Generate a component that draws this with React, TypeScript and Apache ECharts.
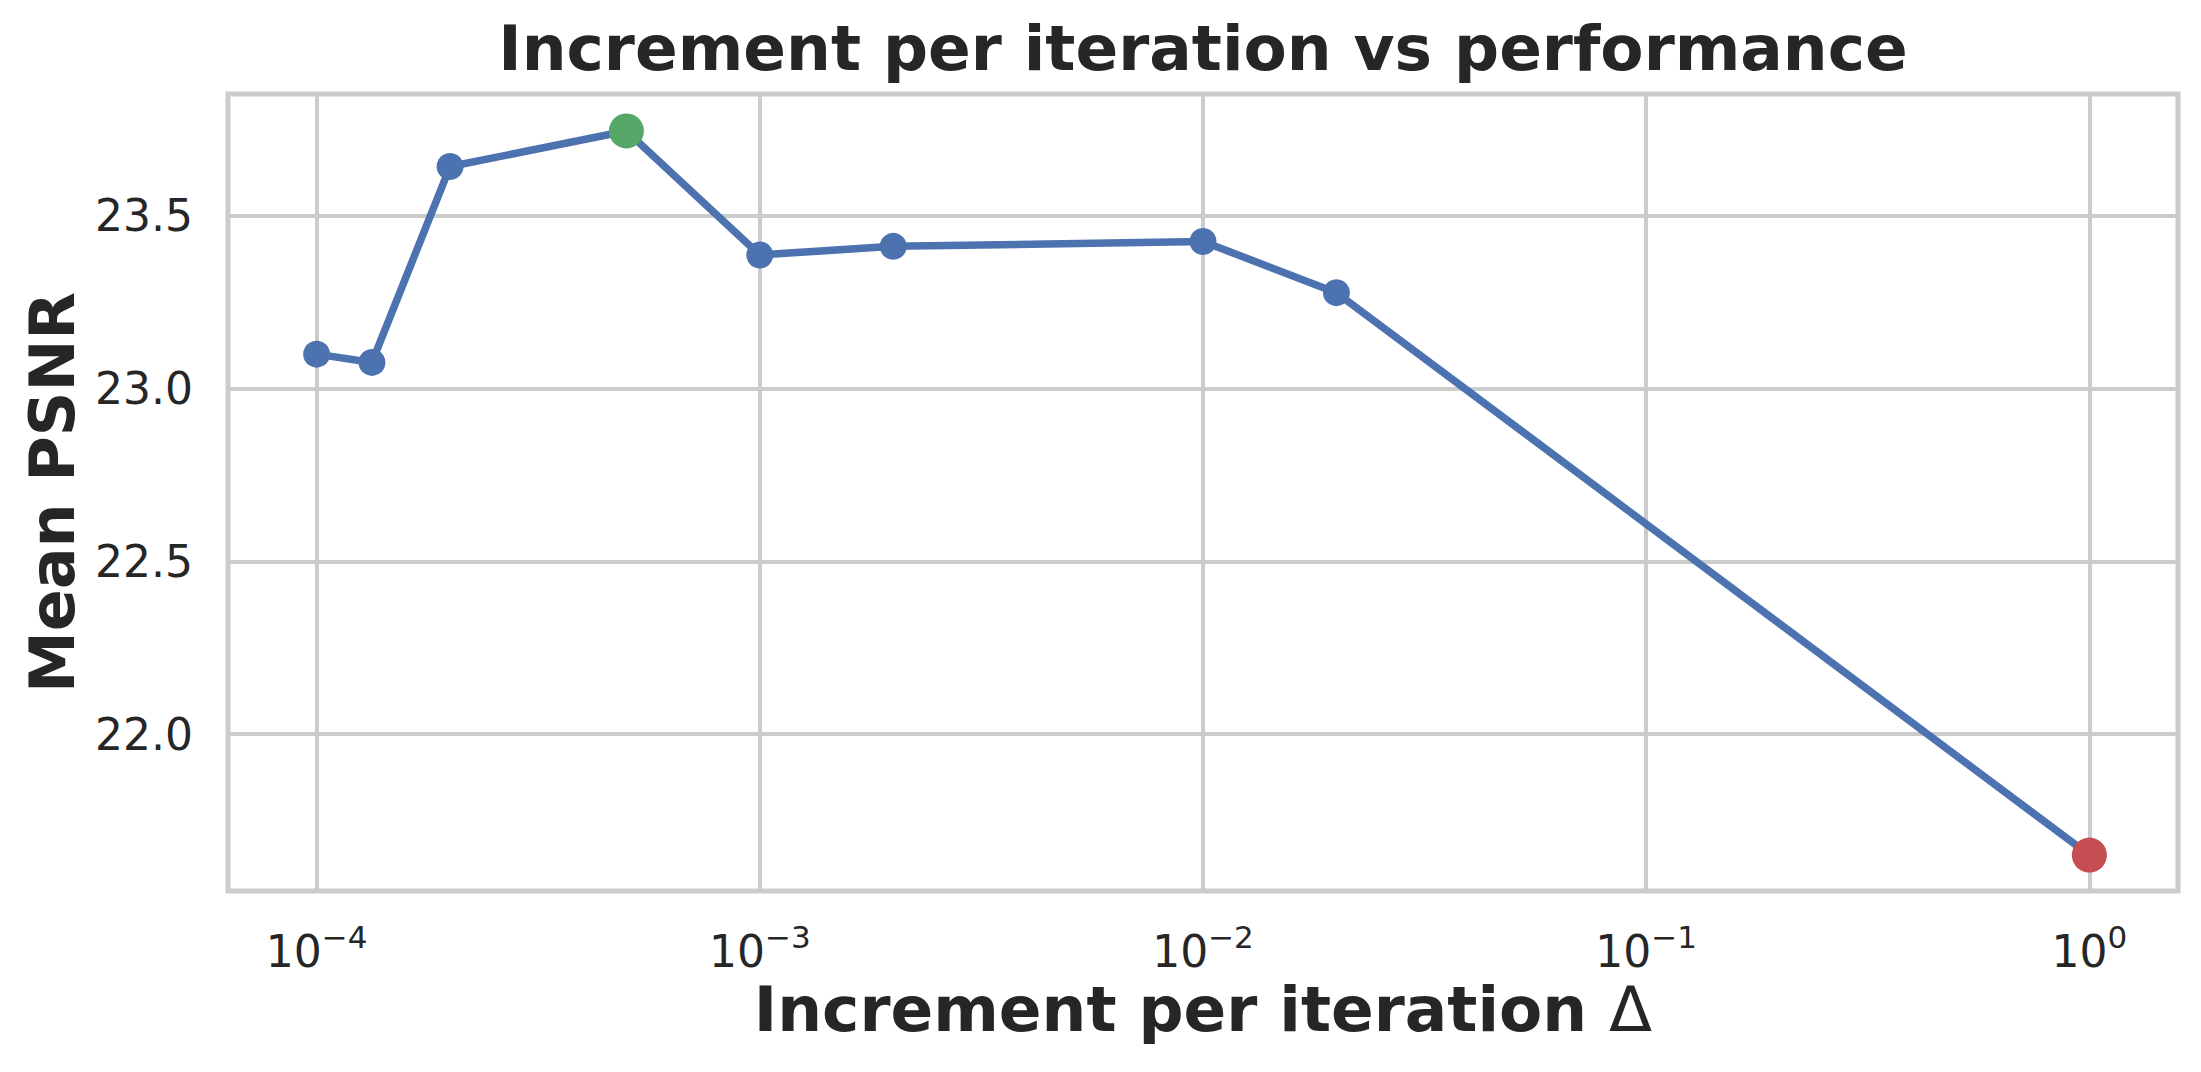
import React, { useEffect, useRef } from 'react';
import * as echarts from 'echarts';

const deltas = [1e-4, 1.333e-4, 2e-4, 5e-4, 1e-3, 2e-3, 1e-2, 2e-2, 1];
const meanPsnr = [23.1, 23.076, 23.643, 23.746, 23.387, 23.412, 23.426, 23.278, 21.65];

const TITLE = 'Increment per iteration vs performance';
const X_NAME = 'Increment per iteration ';
const X_SYMBOL = 'Δ';
const Y_NAME = 'Mean PSNR';

const FG = '#262626';
const GRID = '#cccccc';
const BLUE = '#4C72B0';
const GREEN = '#55A868';
const RED = '#C44E52';
const FONT = 'DejaVu Sans';

const PLOT_LEFT = 228;
const PLOT_TOP = 94;
const PLOT_W = 1950;
const PLOT_H = 797;

const argOf = (arr: number[], better: (a: number, b: number) => boolean) => {
  let k = 0;
  arr.forEach((v, i) => {
    if (better(v, arr[k])) k = i;
  });
  return k;
};

const logTickLabel = (v: number) => {
  const e = Math.log10(v);
  const r = Math.round(e);
  if (Math.abs(e - r) > 1e-6) return '';
  const exp = r < 0 ? '\u2212' + Math.abs(r) : String(r);
  return `{b|10}{s|${exp}}`;
};

const App = (): JSX.Element => {
  const divEL = useRef(null);

  useEffect(() => {
    const instance = echarts.init(divEL.current as any, null, { renderer: 'svg' });
    const points = deltas.map((d, i) => [d, meanPsnr[i]]);
    const best = argOf(meanPsnr, (a, b) => a > b);
    const worst = argOf(meanPsnr, (a, b) => a < b);

    const option: echarts.EChartsOption = {
      animation: false,
      backgroundColor: '#ffffff',
      textStyle: { fontFamily: FONT, color: FG },
      // title centred over the plot area, not the canvas
      graphic: [
        {
          type: 'text',
          x: PLOT_LEFT + PLOT_W / 2,
          y: 17,
          style: {
            text: TITLE,
            align: 'center',
            verticalAlign: 'top',
            fontFamily: FONT,
            fontSize: 63,
            fontWeight: 'bold',
            fill: FG,
          },
        },
      ],
      grid: {
        left: PLOT_LEFT,
        top: PLOT_TOP,
        width: PLOT_W,
        height: PLOT_H,
        show: true,
        borderColor: GRID,
        borderWidth: 5,
        containLabel: false,
      },
      xAxis: {
        type: 'log',
        logBase: 10,
        min: Math.pow(10, -4.2),
        max: Math.pow(10, 0.2),
        splitNumber: 4,
        name: `{a|${X_NAME}}{d|${X_SYMBOL}}`,
        nameLocation: 'middle',
        nameGap: 84,
        nameTextStyle: {
          fontFamily: FONT,
          fontSize: 63,
          fontWeight: 'bold',
          color: FG,
          rich: {
            a: { fontFamily: FONT, fontSize: 63, fontWeight: 'bold', color: FG },
            d: { fontFamily: FONT, fontSize: 63, fontWeight: 'normal', color: FG },
          },
        },
        axisLine: { show: false },
        axisTick: { show: false },
        splitLine: { show: true, lineStyle: { color: GRID, width: 4 } },
        axisLabel: {
          margin: 30,
          showMinLabel: false,
          showMaxLabel: false,
          formatter: logTickLabel,
          rich: {
            b: { fontFamily: FONT, fontSize: 44, color: FG, lineHeight: 52, verticalAlign: 'bottom' },
            s: { fontFamily: FONT, fontSize: 31, color: FG, lineHeight: 52, verticalAlign: 'top' },
          },
        },
      },
      yAxis: {
        type: 'value',
        min: 21.546,
        max: 23.853,
        splitNumber: 5,
        name: Y_NAME,
        nameLocation: 'middle',
        nameGap: 145,
        nameRotate: 90,
        nameTextStyle: { fontFamily: FONT, fontSize: 62, fontWeight: 'bold', color: FG },
        axisLine: { show: false },
        axisTick: { show: false },
        splitLine: { show: true, lineStyle: { color: GRID, width: 4 } },
        axisLabel: {
          margin: 35,
          fontFamily: FONT,
          fontSize: 44,
          color: FG,
          showMinLabel: false,
          showMaxLabel: false,
          formatter: (v: number) => v.toFixed(1),
        },
      },
      series: [
        {
          type: 'line',
          data: points,
          symbol: 'circle',
          symbolSize: 27,
          itemStyle: { color: BLUE },
          lineStyle: { color: BLUE, width: 7.5 },
          z: 2,
        },
        {
          type: 'scatter',
          data: [points[best]],
          symbolSize: 35,
          itemStyle: { color: GREEN, opacity: 1 },
          z: 3,
        },
        {
          type: 'scatter',
          data: [points[worst]],
          symbolSize: 35,
          itemStyle: { color: RED, opacity: 1 },
          z: 3,
        },
      ],
    };

    instance.setOption(option);

    return () => {
      instance.dispose();
    };
  }, []);

  return (
    <div
      ref={divEL}
      style={{ position: 'absolute', left: 0, top: 0, width: 2201, height: 1072, background: '#ffffff' }}
    ></div>
  );
};

export default App;
